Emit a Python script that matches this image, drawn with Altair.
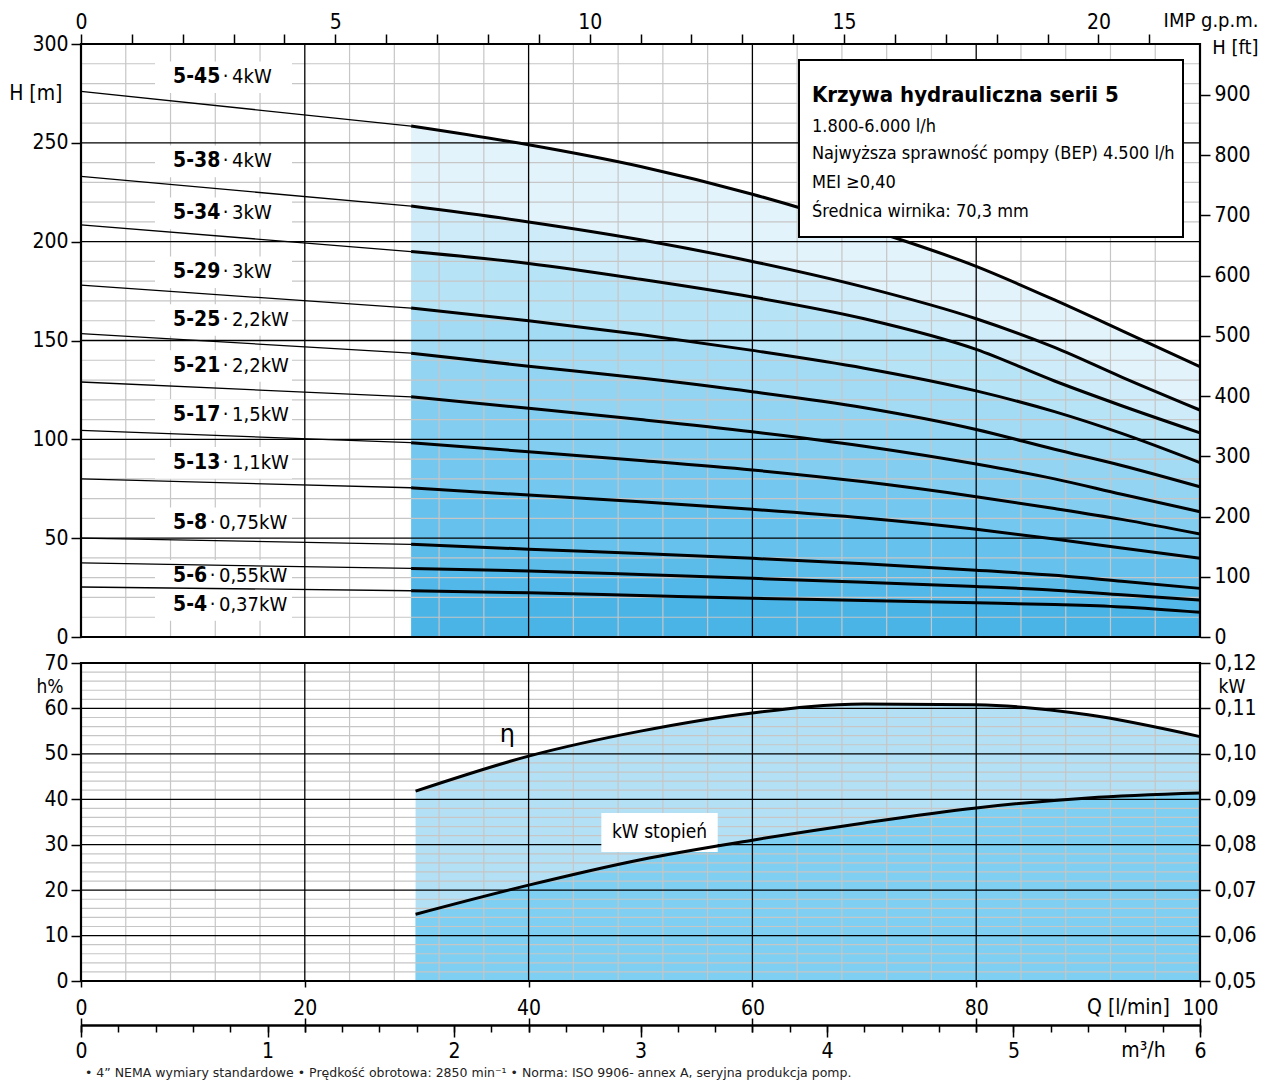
import altair as alt
import pandas as pd

FONT = "DejaVu Sans Condensed"
FOOT_FONT = "DejaVu Sans"

# ---------------- data: pump curves (H [m] vs Q [l/min]) ----------------
MODELS = ["5-4", "5-6", "5-8", "5-13", "5-17", "5-21", "5-25", "5-29", "5-34", "5-38", "5-45"]
POWERS = ["0,37kW", "0,55kW", "0,75kW", "1,1kW", "1,5kW", "2,2kW", "2,2kW", "3kW", "3kW", "4kW", "4kW"]
H_SHUTOFF = [25.3, 37.5, 50.0, 80.0, 104.5, 129.0, 153.5, 178.0, 208.5, 233.0, 276.0]
Q_OP = [29.5, 40, 50, 60, 70, 80, 87, 93, 100]
H_OP = [
    [23.4, 22.4, 21.0, 19.6, 18.5, 17.3, 16.4, 15.2, 12.5],
    [34.7, 33.4, 31.6, 29.7, 27.7, 25.5, 23.7, 21.4, 18.7],
    [46.9, 44.4, 42.2, 39.8, 37.0, 33.8, 31.2, 28.2, 24.6],
    [75.5, 71.8, 68.4, 64.6, 60.2, 54.5, 49.6, 45.0, 39.8],
    [98.3, 93.7, 89.3, 84.5, 78.5, 71.0, 65.0, 59.5, 52.1],
    [121.5, 115.7, 110.0, 103.8, 96.5, 87.5, 80.0, 72.2, 63.4],
    [143.6, 137.0, 131.0, 124.1, 116.0, 105.0, 95.0, 86.8, 76.0],
    [166.4, 160.0, 153.0, 145.0, 136.0, 124.5, 114.0, 103.0, 88.2],
    [195.0, 189.0, 181.0, 172.0, 161.0, 145.5, 129.5, 117.0, 103.3],
    [218.0, 210.0, 201.0, 190.0, 177.0, 161.0, 146.5, 131.5, 114.8],
    [258.5, 249.0, 238.0, 224.0, 207.0, 187.5, 170.5, 155.0, 136.7],
]
LABEL_H = [16.2, 30.9, 57.5, 88.1, 112.3, 137.1, 160.4, 184.5, 214.3, 240.6, 283.2]
BAND_COLORS = ["#4ab4e7", "#52b8e9", "#5bbcea", "#66c1ec", "#74c7ee", "#82cdf0",
               "#92d4f2", "#a3dbf4", "#b7e3f6", "#cdebf8", "#e3f3fb"]

# ---------------- data: efficiency and power per stage ----------------
Q_EFF = [29.9, 40, 50, 60, 70, 80, 90, 100]
ETA = [41.8, 49.5, 55.0, 59.0, 61.0, 60.8, 58.6, 53.8]
KW_STAGE = [0.0647, 0.0711, 0.0767, 0.0810, 0.0848, 0.0881, 0.0903, 0.0914]

# secondary-axis tick values (in their own units)
GPM_TICKS = list(range(0, 22))
FT_TICKS = list(range(0, 1000, 100))
KW_TICKS = [round(0.05 + 0.01 * i, 2) for i in range(8)]
M3H_MINOR = [round(0.2 * i, 1) for i in range(31)]
M3H_MAJOR = list(range(0, 7))

INFO_TITLE = "Krzywa hydrauliczna serii 5"
INFO_LINES = ["1.800-6.000 l/h", "Najwyższa sprawność pompy (BEP) 4.500 l/h",
              "MEI ≥0,40", "Średnica wirnika: 70,3 mm"]
FOOTER = ("• 4” NEMA wymiary standardowe • Prędkość obrotowa: 2850 min⁻¹  •  "
          "Norma: ISO 9906- annex A, seryjna produkcja pomp.")

GPM_TO_LMIN = 4.54609
FT_TO_M = 0.3048
W = 1119          # plot width
H1 = 593          # upper panel height
GAP = 26          # gap between panels
H2 = 318          # lower panel height
HT = H1 + GAP + H2
PXQ = W / 100.0
GRID = "#c6c6c6"

# ---------------- build tables ----------------
thin_rows, thick_rows, band_rows = [], [], []
for i, m in enumerate(MODELS):
    thin_rows.append({"model": m, "Q": 0.0, "H": H_SHUTOFF[i]})
    thin_rows.append({"model": m, "Q": Q_OP[0], "H": H_OP[i][0]})
    for j, (q, h) in enumerate(zip(Q_OP, H_OP[i])):
        thick_rows.append({"model": m, "Q": q, "H": h})
        lo = H_OP[i - 1][j] if i > 0 else 0.0
        band_rows.append({"band": i, "Q": q, "lo": lo, "hi": h, "color": BAND_COLORS[i]})
thin_df = pd.DataFrame(thin_rows)
thick_df = pd.DataFrame(thick_rows)
band_df = pd.DataFrame(band_rows)

LBL_Q = (173 - 81) / PXQ


def bold_w(s):
    return sum(0.374 if c == "-" else 0.626 for c in s) * 21


label_df = pd.DataFrame({
    "bold": MODELS,
    "reg": ["·\u2009" + p for p in POWERS],
    "H": LABEL_H,
    "Qb": [LBL_Q] * len(MODELS),
    "Qr": [LBL_Q + (bold_w(m) + 2.5) / PXQ for m in MODELS],
    "x0": [(155 - 81) / PXQ] * len(MODELS),
    "x1": [(292 - 81) / PXQ] * len(MODELS),
})
label_df["y0"] = label_df["H"] - 8
label_df["y1"] = label_df["H"] + 8

xq = alt.Scale(domain=[0, 100], nice=False, zero=False)
yTop = alt.Scale(domain=[0, 300], range=[H1, 0], nice=False, zero=False)
yLow = alt.Scale(domain=[0, 70], range=[HT, HT - H2], nice=False, zero=False)


def XQ(f, axis=None):
    return alt.X(f"{f}:Q", scale=xq, axis=axis)


def YS(f, scale, axis=None):
    return alt.Y(f"{f}:Q", scale=scale, axis=axis)


def vrules(vals, scale, top, color, w):
    df = pd.DataFrame({"Q": vals, "a": [0] * len(vals), "b": [top] * len(vals)})
    return alt.Chart(df).mark_rule(color=color, strokeWidth=w).encode(
        x=XQ("Q"), y=YS("a", scale), y2="b:Q")


def hrules(vals, scale, color, w):
    df = pd.DataFrame({"v": vals, "a": [0] * len(vals), "b": [100] * len(vals)})
    return alt.Chart(df).mark_rule(color=color, strokeWidth=w).encode(
        y=YS("v", scale), x=XQ("a"), x2="b:Q")


def frame(scale, top):
    df = pd.DataFrame({"a": [0], "b": [100], "c": [0], "d": [top]})
    return alt.Chart(df).mark_rect(fill=None, stroke="black", strokeWidth=2.2).encode(
        x=XQ("a"), x2="b:Q", y=YS("c", scale), y2="d:Q")


def axis_x_layer(axis):
    return alt.Chart(pd.DataFrame({"v": [0.0]})).mark_point(opacity=0).encode(x=XQ("v", axis))


def axis_y_layer(scale, axis):
    return alt.Chart(pd.DataFrame({"v": [0.0]})).mark_point(opacity=0).encode(y=YS("v", scale, axis))


minor_q = [q for q in range(4, 100, 4) if q % 20 != 0]
major_q = [20, 40, 60, 80]
minor_h = [h for h in range(10, 300, 10) if h % 50 != 0]
major_h = [50, 100, 150, 200, 250]
minor_p = [p for p in range(2, 70, 2) if p % 10 != 0]
major_p = [10, 20, 30, 40, 50, 60]

# ---------------- upper panel ----------------
bands = alt.Chart(band_df).mark_area(interpolate="monotone").encode(
    x=XQ("Q"), y=YS("lo", yTop), y2="hi:Q",
    color=alt.Color("color:N", scale=None), detail="band:N")

label_boxes = alt.Chart(label_df).mark_rect(fill="white").encode(
    x=XQ("x0"), x2="x1", y=YS("y0", yTop), y2="y1")

thin = alt.Chart(thin_df).mark_line(color="black", strokeWidth=1.3).encode(
    x=XQ("Q"), y=YS("H", yTop), detail="model:N")
thick = alt.Chart(thick_df).mark_line(color="black", strokeWidth=3, interpolate="monotone").encode(
    x=XQ("Q"), y=YS("H", yTop), detail="model:N")

lbl_bold = alt.Chart(label_df).mark_text(font=FONT, fontSize=21, fontWeight="bold", align="left",
                                         baseline="middle", color="black").encode(
    x=XQ("Qb"), y=YS("H", yTop), text="bold:N")
lbl_reg = alt.Chart(label_df).mark_text(font=FONT, fontSize=20, align="left",
                                        baseline="middle", color="black").encode(
    x=XQ("Qr"), y=YS("H", yTop), text="reg:N")

info_box_df = pd.DataFrame({"x0": [(799 - 81) / PXQ], "x1": [(1183 - 81) / PXQ],
                            "y0": [202.4], "y1": [291.9]})
info_box = alt.Chart(info_box_df).mark_rect(fill="white", stroke="black", strokeWidth=2).encode(
    x=XQ("x0"), x2="x1", y=YS("y0", yTop), y2="y1")
info_title = alt.Chart(pd.DataFrame({"t": [INFO_TITLE], "Q": [(812 - 81) / PXQ], "H": [274.2]})).mark_text(
    font=FONT, fontSize=22, fontWeight="bold", align="left", baseline="middle", color="black").encode(
    x=XQ("Q"), y=YS("H", yTop), text="t:N")
info_lines = alt.Chart(pd.DataFrame({"t": INFO_LINES, "Q": [(812 - 81) / PXQ] * 4,
                                     "H": [258.0, 244.4, 229.7, 215.0]})).mark_text(
    font=FONT, fontSize=18, align="left", baseline="middle", color="black").encode(
    x=XQ("Q"), y=YS("H", yTop), text="t:N")

ax_m = axis_y_layer(yTop, alt.Axis(
    orient="left", values=list(range(0, 301, 50)), tickSize=10, labelPadding=3,
    title="H [m]", titleAngle=0, titleX=-19, titleY=49, titleAlign="right", titleBaseline="middle"))
ax_ft = axis_y_layer(yTop, alt.Axis(
    orient="right", values=[f * FT_TO_M for f in FT_TICKS], tickSize=10, labelPadding=4,
    labelExpr=f"format(round(datum.value / {FT_TO_M}), 'd')",
    title="H [ft]", titleFontSize=20, titleAngle=0, titleX=58, titleY=3,
    titleAlign="right", titleBaseline="middle"))
ax_gpm = axis_x_layer(alt.Axis(
    orient="top", values=[g * GPM_TO_LMIN for g in GPM_TICKS], tickSize=10, labelPadding=2,
    labelFlush=False, labelOverlap=False,
    labelExpr=f"round(datum.value / {GPM_TO_LMIN}) % 5 === 0 ? format(round(datum.value / {GPM_TO_LMIN}), 'd') : ''",
    title="IMP g.p.m.", titleFontSize=20, titleAngle=0, titleX=1177, titleY=-24,
    titleAlign="right", titleBaseline="middle"))

# ---------------- lower panel ----------------
eff_df = pd.DataFrame({"Q": Q_EFF, "eta": ETA,
                       "kwp": [(k - 0.05) * 1000 for k in KW_STAGE]})

eta_area = alt.Chart(eff_df).mark_area(interpolate="monotone", color="#b3e0f4").encode(
    x=XQ("Q"), y=YS("eta", yLow))
kw_area = alt.Chart(eff_df).mark_area(interpolate="monotone", color="#7ecff1").encode(
    x=XQ("Q"), y=YS("kwp", yLow))
kwbox = alt.Chart(pd.DataFrame({"x0": [46.5], "x1": [56.9], "y0": [28.4], "y1": [37.0]})).mark_rect(
    fill="white").encode(x=XQ("x0"), x2="x1", y=YS("y0", yLow), y2="y1")
eta_line = alt.Chart(eff_df).mark_line(color="black", strokeWidth=3, interpolate="monotone").encode(
    x=XQ("Q"), y=YS("eta", yLow))
kw_line = alt.Chart(eff_df).mark_line(color="black", strokeWidth=3, interpolate="monotone").encode(
    x=XQ("Q"), y=YS("kwp", yLow))
eta_txt = alt.Chart(pd.DataFrame({"t": ["η"], "Q": [38.1], "p": [54.1]})).mark_text(
    font="DejaVu Sans", fontSize=24, baseline="middle", color="black").encode(
    x=XQ("Q"), y=YS("p", yLow), text="t:N")
kw_txt = alt.Chart(pd.DataFrame({"t": ["kW stopień"], "Q": [51.7], "p": [32.8]})).mark_text(
    font=FONT, fontSize=19, baseline="middle", color="black").encode(
    x=XQ("Q"), y=YS("p", yLow), text="t:N")
footer = alt.Chart(pd.DataFrame({"t": [FOOTER]})).mark_text(
    font=FOOT_FONT, fontSize=12.5, align="left", baseline="middle", color="#222222").encode(
    x=alt.value(4), y=alt.value(1073 - 44), text="t:N")

ax_p = axis_y_layer(yLow, alt.Axis(
    orient="left", values=list(range(0, 71, 10)), tickSize=10, labelPadding=3,
    title="h%", titleFontSize=19, titleAngle=0, titleX=-18, titleY=HT - H2 + 23,
    titleAlign="right", titleBaseline="middle"))
ax_kw = axis_y_layer(yLow, alt.Axis(
    orient="right", values=[round((k - 0.05) * 1000, 6) for k in KW_TICKS], tickSize=10, labelPadding=4,
    labelExpr="replace(format(0.05 + datum.value / 1000, '.2f'), '.', ',')",
    title="kW", titleFontSize=19, titleAngle=0, titleX=18, titleY=HT - H2 + 23,
    titleAlign="left", titleBaseline="middle"))
ax_q = axis_x_layer(alt.Axis(
    orient="bottom", values=list(range(0, 101, 20)), tickSize=6, labelPadding=10, labelFlush=False,
    title="Q [l/min]", titleX=1047, titleY=26, titleAlign="center", titleBaseline="middle"))
ax_m3h_minor = axis_x_layer(alt.Axis(
    orient="bottom", offset=44, values=[m * 100 / 6 for m in M3H_MINOR], tickSize=7, labels=False,
    domain=True, domainColor="black", domainWidth=2.5, title=None))
ax_m3h_major = axis_x_layer(alt.Axis(
    orient="bottom", offset=44, values=[m * 100 / 6 for m in M3H_MAJOR], tickSize=12, labelPadding=3,
    labelFlush=False, labelExpr="format(round(datum.value * 6 / 100), 'd')",
    title="m³/h", titleX=1062, titleY=25, titleAlign="center", titleBaseline="middle"))
ax_qcross = axis_x_layer(alt.Axis(
    orient="bottom", offset=37, values=list(range(0, 101, 20)), tickSize=14, labels=False, title=None))

chart = alt.layer(
    # upper panel
    bands,
    vrules(minor_q, yTop, 300, GRID, 1.2), hrules(minor_h, yTop, GRID, 1.2),
    label_boxes,
    vrules(major_q, yTop, 300, "black", 1.3), hrules(major_h, yTop, "black", 1.3),
    thin, thick, lbl_bold, lbl_reg,
    info_box, info_title, info_lines, frame(yTop, 300),
    # lower panel
    eta_area, kw_area,
    vrules(minor_q, yLow, 70, GRID, 1.2), hrules(minor_p, yLow, GRID, 1.2),
    vrules(major_q, yLow, 70, "black", 1.3), hrules(major_p, yLow, "black", 1.3),
    kwbox, eta_line, kw_line, eta_txt, kw_txt, frame(yLow, 70), footer,
    # axes
    ax_m, ax_ft, ax_gpm, ax_p, ax_kw, ax_q, ax_m3h_minor, ax_m3h_major, ax_qcross,
).resolve_scale(y="independent").resolve_axis(x="independent", y="independent").properties(
    width=W, height=HT,
    autosize=alt.AutoSizeParams(type="none"),
    padding={"left": 73, "top": 36, "right": 1253 - 73 - W, "bottom": 1072 - 36 - HT},
).configure_view(stroke=None).configure_axis(
    labelFont=FONT, labelFontSize=21, labelColor="black",
    titleFont=FONT, titleFontSize=21, titleFontWeight="normal", titleColor="black",
    tickColor="black", tickWidth=1.5, domain=False, grid=False,
)

chart.save("out.html", embed_options={"renderer": "svg", "actions": False})
